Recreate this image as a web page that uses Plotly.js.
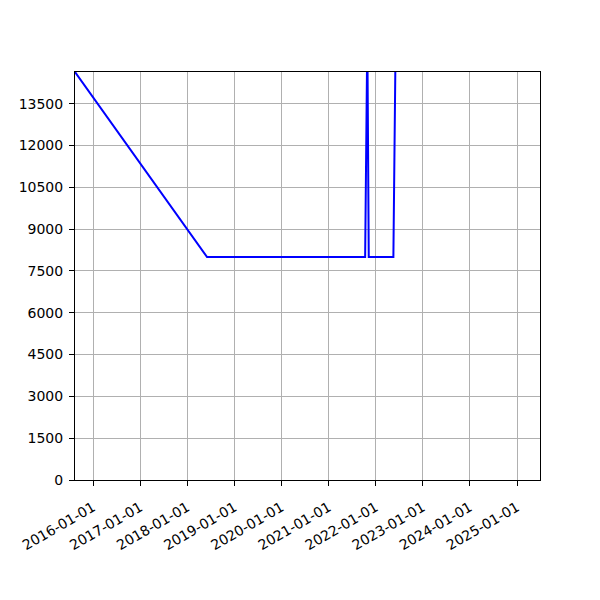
<!DOCTYPE html>
<html>
<head>
<meta charset="utf-8">
<script src="https://cdn.plot.ly/plotly-3.0.1.min.js"></script>
<style>body{margin:0;background:#fff;} #chart{width:600px;height:600px;}</style>
</head>
<body>
<div id="chart"></div>
<script>
const dates = ["2015-08-14", "2018-06-03", "2021-10-11", "2021-10-28", "2021-11-08", "2022-05-18", "2022-06-05"];
const values = [14640, 8000, 8000, 16000, 8000, 8000, 16000];
const xTickVals = ["2016-01-01","2017-01-01","2018-01-01","2019-01-01","2020-01-01","2021-01-01","2022-01-01","2023-01-01","2024-01-01","2025-01-01"];
const xTickText = xTickVals.slice();
const yTickVals = [0,1500,3000,4500,6000,7500,9000,10500,12000,13500];
const xRange = ["2015-08-14", "2025-06-28"];
const yRange = [0, 14640];

const trace = {x: dates, y: values, type: 'scatter', mode: 'lines', line: {color: '#0000ff', width: 2}, hoverinfo: 'skip'};
const axisCommon = {showline: true, linecolor: '#000', linewidth: 1, mirror: true, ticks: 'outside', ticklen: 5, tickwidth: 1, tickcolor: '#000', showgrid: true, gridcolor: '#b0b0b0', gridwidth: 1, zeroline: false, ticklabelstandoff: 3, tickfont: {family: 'DejaVu Sans', size: 14, color: '#000'}};
const layout = {
  width: 600, height: 600,
  margin: {l: 75, r: 60, t: 72, b: 120},
  paper_bgcolor: '#fff', plot_bgcolor: '#fff',
  showlegend: false,
  xaxis: Object.assign({}, axisCommon, {type: 'date', range: xRange, tickmode: 'array', tickvals: xTickVals, ticktext: xTickText, tickangle: -30, ticklabelstandoff: 8}),
  yaxis: Object.assign({}, axisCommon, {range: yRange, tickmode: 'array', tickvals: yTickVals, ticktext: yTickVals.map(String)})
};
Plotly.newPlot('chart', [trace], layout, {displayModeBar: false, staticPlot: true});
</script>
</body>
</html>
